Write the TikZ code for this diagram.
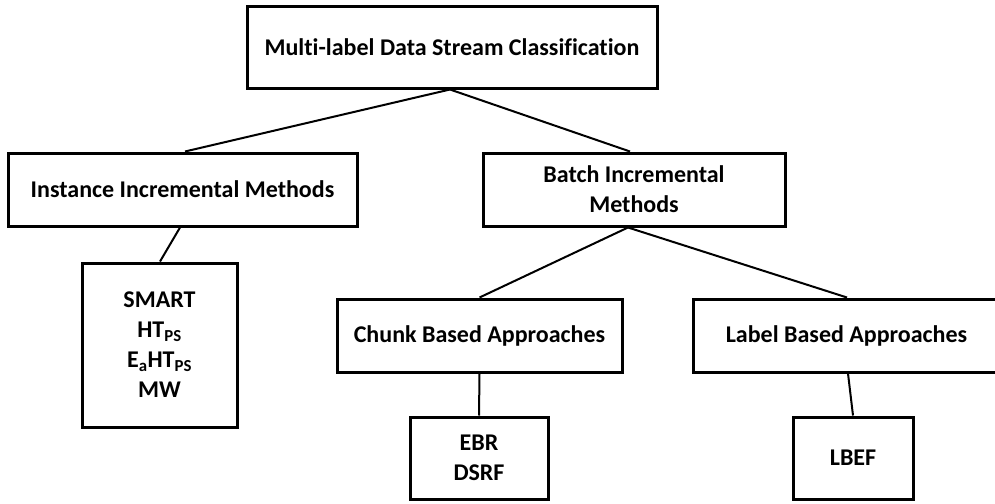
\documentclass[tikz,border=0pt]{standalone}
\usepackage{fontspec}
\setmainfont{Carlito}[Ligatures={NoCommon}]
\begin{document}
\begin{tikzpicture}[x=1pt,y=-1pt,
  box/.style={draw=black, line width=3pt, fill=white, inner sep=0pt,
    align=center, font=\fontsize{24}{30}\selectfont\bfseries},
  link/.style={draw=black, line width=2pt}]
\useasboundingbox (0,0) rectangle (995,503);
% boxes (centres and sizes in picture units)
\node[box, minimum width=410, minimum height=81]  (root)  at (452,47.5)  {Multi-label Data Stream Classification};
\node[box, minimum width=349, minimum height=73]  (inst)  at (182.5,189.5) {Instance Incremental Methods};
\node[box, minimum width=302, minimum height=73]  (batch) at (634,189.5) {Batch Incremental\\Methods};
\node[box, minimum width=155, minimum height=164] (smart) at (159.5,345) {SMART\\HT\textsubscript{PS}\\E\textsubscript{a}HT\textsubscript{PS}\\MW};
\node[box, minimum width=285, minimum height=73]  (chunk) at (479.5,335.5) {Chunk Based Approaches};
\node[box, minimum width=307, minimum height=73]  (lab)   at (846.5,335.5) {Label Based Approaches};
\node[box, minimum width=138, minimum height=82]  (ebr)   at (479,458) {EBR\\DSRF};
\node[box, minimum width=120, minimum height=82]  (lbef)  at (853,458) {LBEF};
% connectors
\draw[link] ([xshift=-2]root.south) -- ([xshift=2.5]inst.north);
\draw[link] ([xshift=-2]root.south) -- ([xshift=-4]batch.north);
\draw[link] ([xshift=-2.5]inst.south) -- ([xshift=0.5]smart.north);
\draw[link] ([xshift=-6]batch.south) -- (chunk.north);
\draw[link] ([xshift=-6]batch.south) -- ([xshift=0.5]lab.north);
\draw[link] (chunk.south) -- (ebr.north);
\draw[link] ([xshift=1.5]lab.south) -- (lbef.north);
\end{tikzpicture}
\end{document}
